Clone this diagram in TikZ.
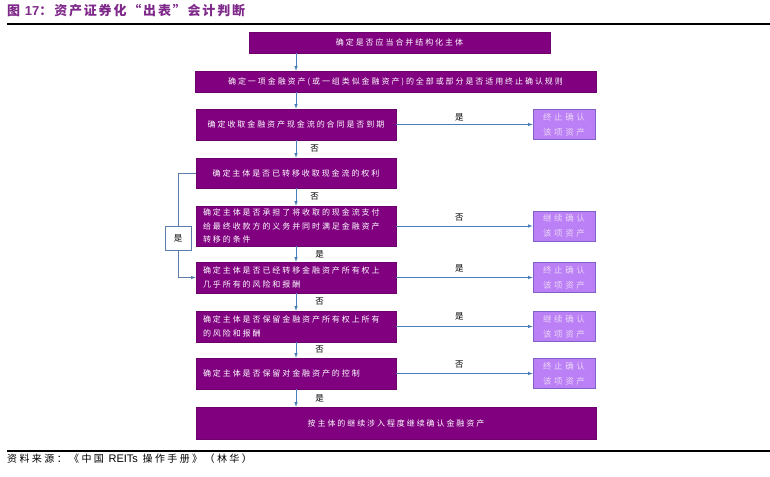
\documentclass[tikz,border=0pt]{standalone}
\usepackage{fontspec}
\usetikzlibrary{arrows}
\newfontfamily\cjkbox[LetterSpace=24]{Noto Sans CJK SC}
\newfontfamily\cjkside[LetterSpace=30]{Noto Sans CJK SC}
\newfontfamily\cjktitle[LetterSpace=14]{Noto Sans CJK SC}
\newfontfamily\cjknote[LetterSpace=24]{Noto Sans CJK SC}
\newfontfamily\latin{Liberation Sans}
\begin{document}
\begin{tikzpicture}[x=1pt,y=-1pt,
 mainbox/.style={fill=boxcolor,draw=boxcolor!85!black,line width=0.5pt,text=white,
  font=\cjkbox\fontsize{8}{13.5}\selectfont,inner xsep=7pt,inner ysep=0pt,
  text width=186pt,minimum height=31pt,align=center},
 sidebox/.style={fill=sidecolor,draw=sideedge,line width=0.6pt,text=sidetext,
  font=\cjkside\fontsize{8.5}{15}\selectfont,minimum width=62pt,minimum height=30pt,
  inner sep=0pt,align=center},
 flow/.style={arrowcolor,line width=0.6pt,-latex},
 yn/.style={text=black,font=\cjkbox\fontsize{8.5}{8.5}\selectfont,inner sep=0pt}]
 \definecolor{boxcolor}{HTML}{800080}
 \definecolor{sidecolor}{HTML}{BB80F5}
 \definecolor{sideedge}{HTML}{7F62C8}
 \definecolor{sidetext}{HTML}{EBD6F8}
 \definecolor{arrowcolor}{HTML}{4A7EBB}
 \definecolor{titlecolor}{HTML}{7F2A8A}
 \useasboundingbox (0,0) rectangle (770,476);
 \node [anchor=west,text=titlecolor,font=\cjktitle\bfseries\fontsize{13}{13}\selectfont,inner sep=0pt] (title) at (7,11) {图 {\latin\bfseries 17}：资产证券化“出表”会计判断};
 \draw [line width=1.2pt] (7,24) -- (770,24);
 \coordinate (spine) at (296,0);
 \node [mainbox,text width=287pt,minimum height=21pt] (b1) at (399.5,42.5) {确定是否应当合并结构化主体};
 \node [mainbox,text width=387pt,minimum height=21pt] (b2) at (395.5,81.5) {确定一项金融资产(或一组类似金融资产)的全部或部分是否适用终止确认规则};
 \node [mainbox] (b3) at (296,124.5) {确定收取金融资产现金流的合同是否到期};
 \node [mainbox,minimum height=30pt] (b4) at (296,173) {确定主体是否已转移收取现金流的权利};
 \node [mainbox,minimum height=40pt,align=left] (b5) at (296,226) {确定主体是否承担了将收取的现金流支付\\给最终收款方的义务并同时满足金融资产\\转移的条件};
 \node [mainbox,align=left] (b6) at (296,277.5) {确定主体是否已经转移金融资产所有权上\\几乎所有的风险和报酬};
 \node [mainbox,align=left] (b7) at (296,326.5) {确定主体是否保留金融资产所有权上所有\\的风险和报酬};
 \node [mainbox,align=left] (b8) at (296,373.5) {确定主体是否保留对金融资产的控制};
 \node [mainbox,text width=386pt,minimum height=32pt] (b9) at (396,423) {按主体的继续涉入程度继续确认金融资产};
 \node [sidebox] (r1) at (564,124.5) {终止确认\\该项资产};
 \node [sidebox] (r2) at (564,226) {继续确认\\该项资产};
 \node [sidebox] (r3) at (564,277.5) {终止确认\\该项资产};
 \node [sidebox] (r4) at (564,326.5) {继续确认\\该项资产};
 \node [sidebox] (r5) at (564,373.5) {终止确认\\该项资产};
 \node [draw=arrowcolor!70!gray,line width=0.6pt,fill=white,minimum width=26pt,minimum height=24pt,font=\cjkbox\fontsize{8.5}{8.5}\selectfont,inner sep=0pt] (yes) at (178,238) {是};
 \draw [flow] (b1.south -| spine) -- (b2.north -| spine);
 \draw [flow] (b2.south -| spine) -- (b3.north);
 \draw [flow] (b3.south) -- node [yn,right=14pt] (l34) {否} (b4.north);
 \draw [flow] (b4.south) -- node [yn,right=14pt] (l45) {否} (b5.north);
 \draw [flow] (b5.south) -- node [yn,right=19pt] (l56) {是} (b6.north);
 \draw [flow] (b6.south) -- node [yn,right=19pt] (l67) {否} (b7.north);
 \draw [flow] (b7.south) -- node [yn,right=19pt] (l78) {否} (b8.north);
 \draw [flow] (b8.south) -- node [yn,right=19pt] (l89) {是} (b9.north -| spine);
 \draw [flow] (b3.east) -- node [yn,above=3pt,xshift=-5pt] (l3r) {是} (r1.west);
 \draw [flow] (b5.east) -- node [yn,above=5pt,xshift=-5pt] (l5r) {否} (r2.west);
 \draw [flow] (b6.east) -- node [yn,above=5pt,xshift=-5pt] (l6r) {是} (r3.west);
 \draw [flow] (b7.east) -- node [yn,above=6pt,xshift=-5pt] (l7r) {是} (r4.west);
 \draw [flow] (b8.east) -- node [yn,above=5pt,xshift=-5pt] (l8r) {否} (r5.west);
 \draw [arrowcolor!70!gray,line width=0.6pt] (b4.west) -| (yes.north);
 \draw [flow,arrowcolor!70!gray] (yes.south) |- (b6.west);
 \draw [line width=1.2pt] (7,451) -- (770,451);
 \node [anchor=west,font=\cjknote\fontsize{10}{10}\selectfont,inner sep=0pt] (source) at (7,459) {资料来源：《中国 {\latin\fontsize{11}{11}\selectfont REITs} 操作手册》（林华）};
\end{tikzpicture}
\end{document}
